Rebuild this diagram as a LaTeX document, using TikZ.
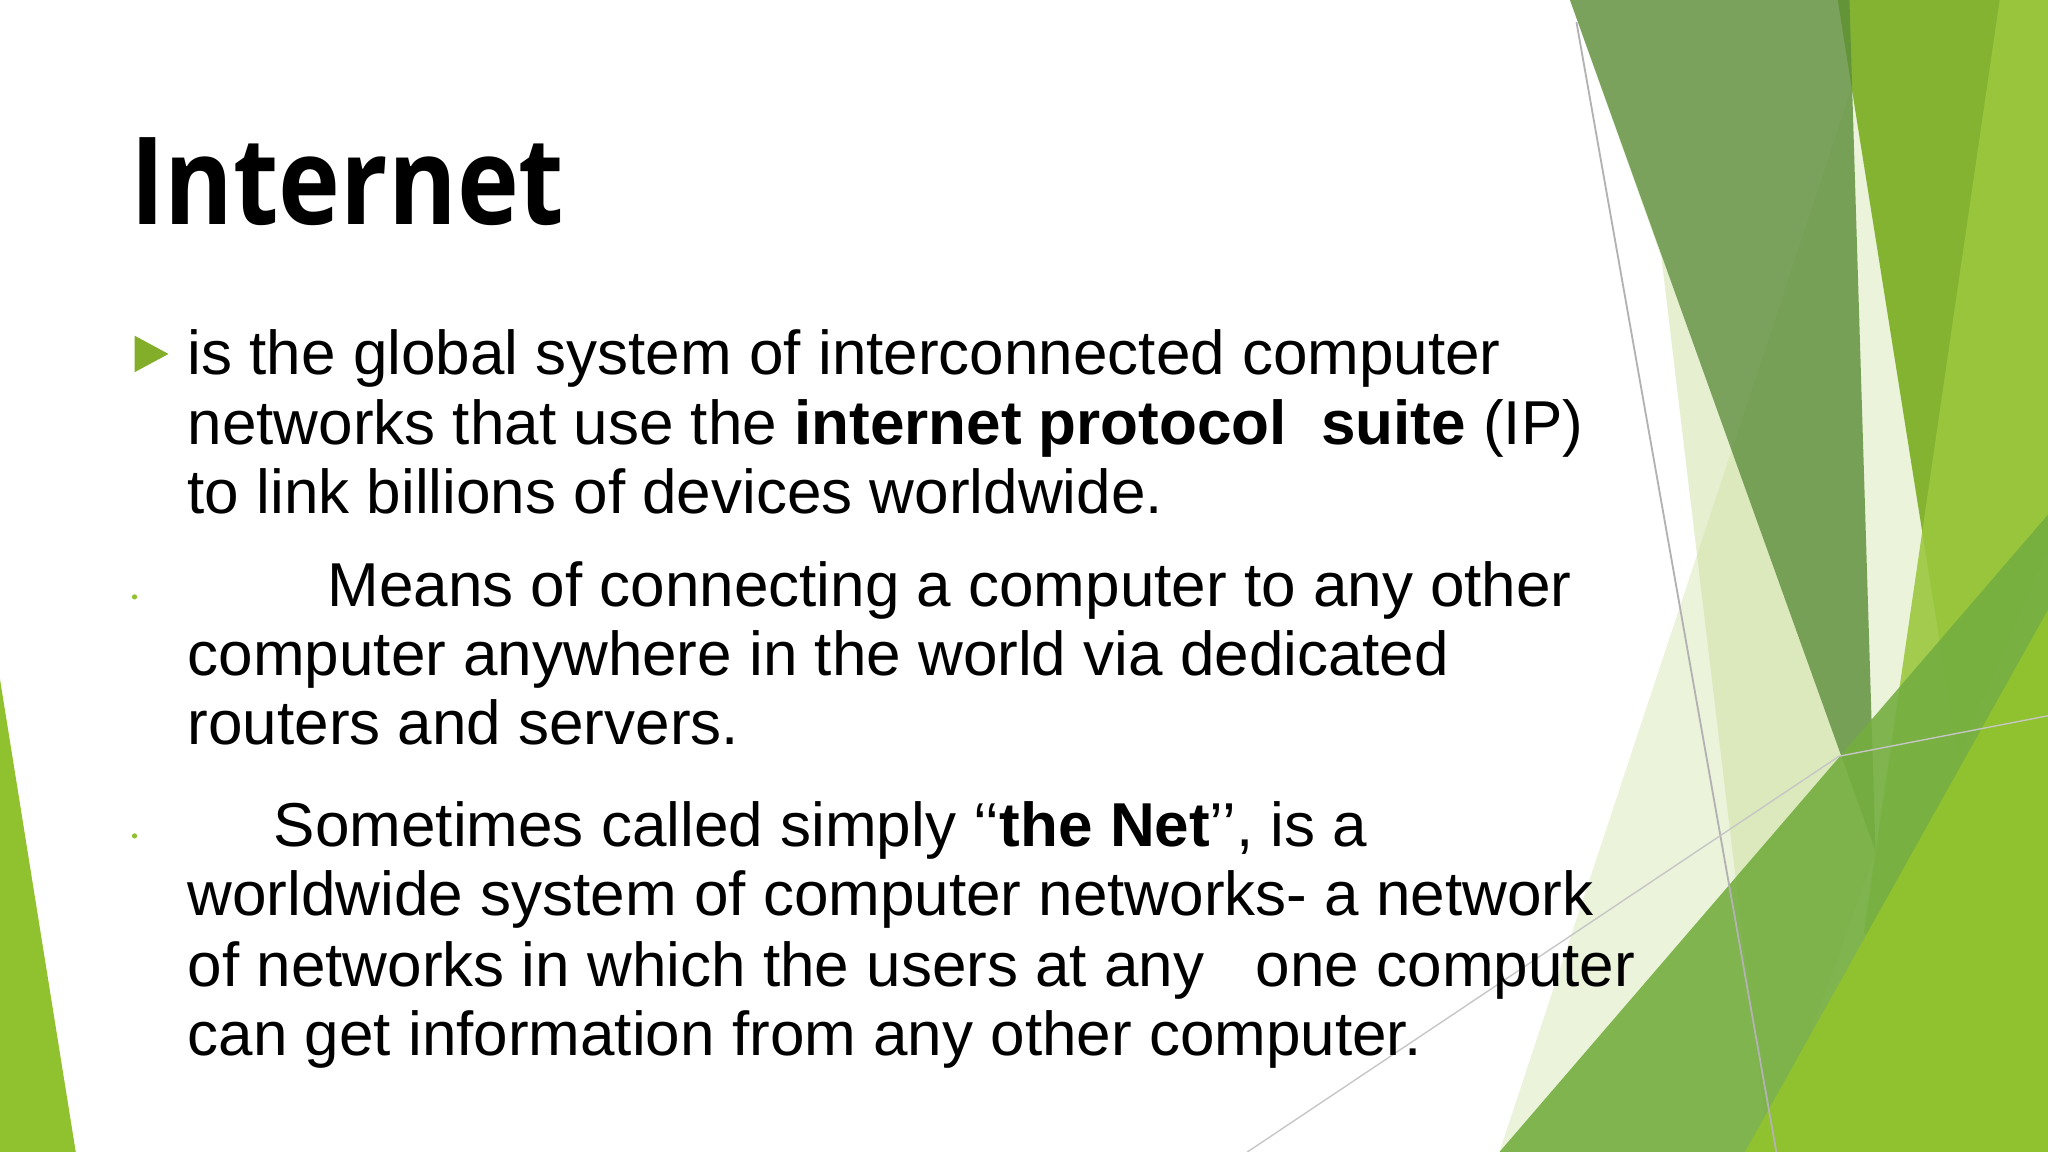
\documentclass[tikz,border=0pt]{standalone}
\usepackage{fontspec}
\setmainfont{Liberation Sans}
\newfontfamily\titlefont{Open Sans}
\begin{document}
\begin{tikzpicture}[x=0.01cm,y=-0.01cm,
  body/.style={anchor=base west,inner sep=0,font=\fontsize{13.5pt}{15pt}\selectfont},
  facet/.style={draw=none}]
\definecolor{muted}{HTML}{5E8E3A}
\definecolor{bright}{HTML}{84B332}
\definecolor{light}{HTML}{9CC83F}
\definecolor{pale}{HTML}{C8DE9A}
\definecolor{midg}{HTML}{74AE40}
\definecolor{ygreen}{HTML}{90C12E}
\useasboundingbox (0,0) rectangle (1568,882);
\fill[white] (0,0) rectangle (1568,882);
% facets
\fill[facet,pale,opacity=0.35] (1430,30) -- (1148,882) -- (1568,882) -- cycle;
\fill[facet,pale,opacity=0.45] (1272,197) -- (1202,0) -- (1436,652) -- (1354,882) -- cycle;
\fill[facet,bright] (1407,0) -- (1568,0) -- (1568,420) -- (1499,579) -- cycle;
\fill[facet,muted,opacity=0.82] (1202,0) -- (1416,0) -- (1436,652) -- cycle;
\fill[facet,light,opacity=0.9] (1531,0) -- (1568,0) -- (1568,882) -- (1427,714) -- cycle;
\fill[facet,midg,opacity=0.9] (1148,882) -- (1568,394) -- (1568,882) -- cycle;
\fill[facet,ygreen] (1336,882) -- (1568,467) -- (1568,882) -- cycle;
\fill[facet,ygreen] (0,520) -- (58,882) -- (0,882) -- cycle;
\draw[gray!60,line width=0.4pt] (1207,17) -- (1360,882);
\draw[gray!45,line width=0.3pt] (955,882) -- (1408,579) -- (1568,548);
% title
\node[anchor=base west,inner sep=0,xscale=0.86,font=\titlefont\bfseries\fontsize{26.5pt}{30pt}\selectfont] (title) at (99,172) {Internet};
% bullets
\fill[ygreen!90!black] (103,257) -- (129,271) -- (103,285) -- cycle;
\fill[ygreen] (103,457) circle (2);
\fill[ygreen] (103,640) circle (2);
% text
\node[body] (l1) at (143,287) {is the global system of interconnected computer};
\node[body] (l2) at (143,340) {networks that use the \textbf{internet protocol\ \ suite} (IP)};
\node[body] (l3) at (143,393) {to link billions of devices worldwide.};
\node[body] (l4) at (250,464) {Means of connecting a computer to any other};
\node[body] (l5) at (143,517) {computer anywhere in the world via dedicated};
\node[body] (l6) at (143,570) {routers and servers.};
\node[body] (l7) at (209,648) {Sometimes called simply \textquoteleft\textquoteleft\textbf{the Net}\textquoteright\textquoteright, is a};
\node[body] (l8) at (143,701) {worldwide system of computer networks- a network};
\node[body] (l9) at (143,755) {of networks in which the users at any\ \ \ one computer};
\node[body] (l10) at (143,808) {can get information from any other computer.};
\end{tikzpicture}
\end{document}
